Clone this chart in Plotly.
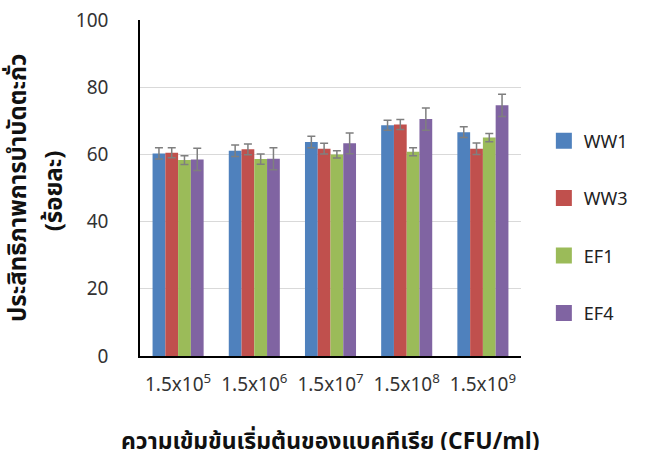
import plotly.graph_objects as go

categories = ["1.5x10<sup>5</sup>", "1.5x10<sup>6</sup>", "1.5x10<sup>7</sup>",
              "1.5x10<sup>8</sup>", "1.5x10<sup>9</sup>"]
series_names = ["WW1", "WW3", "EF1", "EF4"]
ww1 = [60.3, 61.1, 63.7, 68.7, 66.6]
ww3 = [60.5, 61.5, 61.7, 68.9, 61.7]
ef1 = [58.3, 58.6, 60.0, 60.8, 65.0]
ef4 = [58.5, 58.7, 63.3, 70.5, 74.6]
ww1_err = [1.7, 1.7, 1.7, 1.5, 1.6]
ww3_err = [1.5, 1.6, 1.6, 1.5, 1.7]
ef1_err = [1.3, 1.5, 1.1, 1.2, 1.2]
ef4_err = [3.3, 3.3, 3.1, 3.3, 3.3]
colors = ["#4F81BD", "#C0504D", "#9BBB59", "#8064A2"]
y_title_main = "ประสิทธิภาพการบำบัดตะกั่ว"
y_title_unit = "(ร้อยละ)"
x_title = "ความเข้มข้นเริ่มต้นของแบคทีเรีย (CFU/ml)"

values = [ww1, ww3, ef1, ef4]
errors = [ww1_err, ww3_err, ef1_err, ef4_err]

font_family = "Noto Sans Thai, Tahoma, Noto Sans, Liberation Sans, sans-serif"

fig = go.Figure()
for name, vals, errs, col in zip(series_names, values, errors, colors):
    fig.add_trace(go.Bar(
        x=categories, y=vals, name=name, marker_color=col,
        marker_line_width=0, showlegend=False,
        error_y=dict(type="data", array=errs, visible=True,
                     color="#7f7f7f", thickness=1.5, width=4),
    ))
for name, col in zip(series_names, colors):
    fig.add_trace(go.Scatter(
        x=[None], y=[None], mode="markers", name=name,
        marker=dict(symbol="square", size=23, color=col),
        legendgroup=name, showlegend=True,
    ))

fig.add_annotation(text="<b>" + y_title_main + "</b>", textangle=-90,
                   xref="paper", yref="paper", x=0, y=0.5, xshift=-121,
                   xanchor="center", yanchor="middle", showarrow=False,
                   font=dict(size=24, color="#111111"))
fig.add_annotation(text="<b>" + y_title_unit + "</b>", textangle=-90,
                   xref="paper", yref="paper", x=0, y=0.49, xshift=-85,
                   xanchor="center", yanchor="middle", showarrow=False,
                   font=dict(size=24, color="#111111"))
fig.add_annotation(text="<b>" + x_title + "</b>",
                   xref="paper", yref="paper", x=0.5, y=0, yshift=-86,
                   xanchor="center", yanchor="middle", showarrow=False,
                   font=dict(size=23, color="#111111"))

fig.update_layout(
    width=650, height=450,
    margin=dict(l=140, r=129, t=20, b=94),
    paper_bgcolor="white", plot_bgcolor="white",
    barmode="group", bargap=0.33, bargroupgap=0,
    font=dict(family=font_family, size=18, color="#222222"),
    legend=dict(x=1.06, y=0.695, xanchor="left", yanchor="top",
                tracegroupgap=31, traceorder="grouped",
                font=dict(size=18, color="#222222")),
    xaxis=dict(showline=True, linecolor="black", linewidth=1.5,
               ticks="", ticklabelstandoff=10, automargin=False,
               tickfont=dict(size=19, color="#333333")),
    yaxis=dict(range=[0, 100], dtick=20, showline=True, linecolor="black",
               linewidth=1.5, showgrid=True, gridcolor="#d9d9d9",
               gridwidth=1, zeroline=False, ticks="", ticklabelstandoff=26,
               automargin=False,
               tickfont=dict(size=19, color="#333333")),
)

fig.write_html("out.html", config={"displayModeBar": False},
               post_script="document.body.style.margin='0px';")
